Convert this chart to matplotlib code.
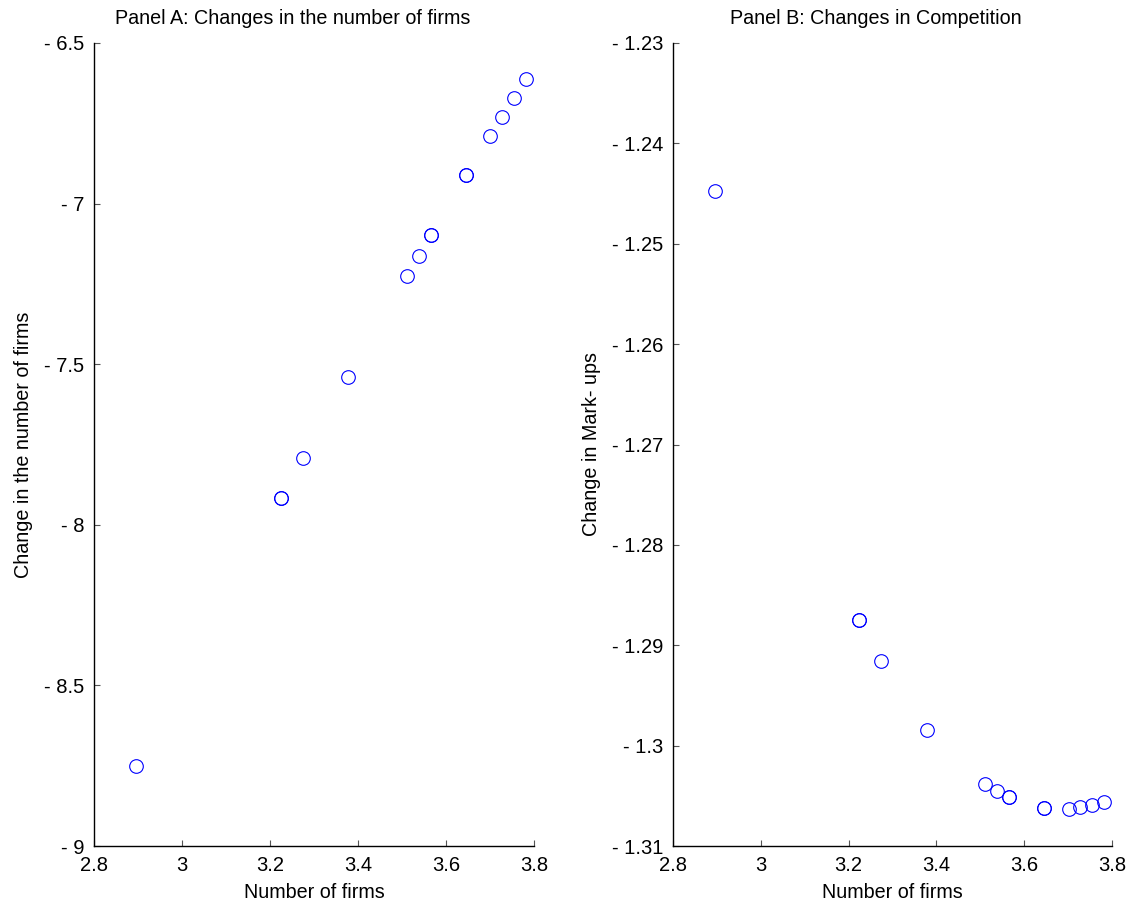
import matplotlib
matplotlib.use("Agg")
import matplotlib.pyplot as plt

plt.rcParams['font.family'] = ['Liberation Sans', 'DejaVu Sans']

# Data
num_firms = [2.895, 3.224, 3.224, 3.274, 3.378, 3.511, 3.539, 3.565, 3.565,
             3.646, 3.646, 3.701, 3.728, 3.755, 3.781]
change_firms = [-8.751, -7.916, -7.916, -7.792, -7.539, -7.225, -7.162, -7.098, -7.098,
                -6.912, -6.912, -6.790, -6.731, -6.671, -6.612]
change_markups = [-1.2447, -1.2875, -1.2875, -1.2916, -1.2984, -1.3038, -1.30457, -1.30513, -1.30513,
                  -1.3062, -1.3062, -1.3063, -1.30616, -1.30596, -1.30562]

x_ticks = [2.8, 3.0, 3.2, 3.4, 3.6, 3.8]
x_ticklabels = ['2.8', '3', '3.2', '3.4', '3.6', '3.8']
yA_ticks = [-9, -8.5, -8, -7.5, -7, -6.5]
yA_ticklabels = ['- 9', '- 8.5', '- 8', '- 7.5', '- 7', '- 6.5']
yB_ticks = [-1.31, -1.30, -1.29, -1.28, -1.27, -1.26, -1.25, -1.24, -1.23]
yB_ticklabels = ['- 1.31', '- 1.3', '- 1.29', '- 1.28', '- 1.27', '- 1.26', '- 1.25', '- 1.24', '- 1.23']

W, H = 1132, 907
fig = plt.figure(figsize=(W / 100, H / 100), dpi=100)

axA = fig.add_axes([94 / W, (H - 846) / H, 440 / W, 803 / H])
axB = fig.add_axes([673 / W, (H - 846) / H, 439 / W, 803 / H])

panels = [
    (axA, change_firms, yA_ticks, yA_ticklabels, (-9, -6.5),
     'Panel A: Changes in the number of firms', 'Change in the number of firms', 0.452),
    (axB, change_markups, yB_ticks, yB_ticklabels, (-1.31, -1.23),
     'Panel B: Changes in Competition', 'Change in Mark- ups', 0.462),
]

for ax, yvals, yt, ytl, ylim, title, ylabel, tx in panels:
    ax.plot(num_firms, yvals, linestyle='none', marker='o', markersize=9.8,
            markerfacecolor='none', markeredgecolor='#0000ff', markeredgewidth=0.8)
    ax.set_xlim(2.8, 3.8)
    ax.set_ylim(*ylim)
    ax.set_xticks(x_ticks)
    ax.set_xticklabels(x_ticklabels)
    ax.set_yticks(yt)
    ax.set_yticklabels(ytl)
    for s in ['top', 'right']:
        ax.spines[s].set_visible(False)
    for s in ['left', 'bottom']:
        ax.spines[s].set_linewidth(1.0)
        ax.spines[s].set_color('black')
    ax.tick_params(axis='both', direction='in', length=4, width=0.8, color='#555555',
                   labelsize=14.5, colors='black')
    ax.tick_params(axis='x', pad=7)
    ax.tick_params(axis='y', pad=7)
    ax.set_title(title, fontsize=14.2, pad=14, x=tx)
    ax.set_xlabel('Number of firms', fontsize=14.2, labelpad=6)
    ax.set_ylabel(ylabel, fontsize=14.2, labelpad=8)

fig.savefig('out.png', dpi=100)
